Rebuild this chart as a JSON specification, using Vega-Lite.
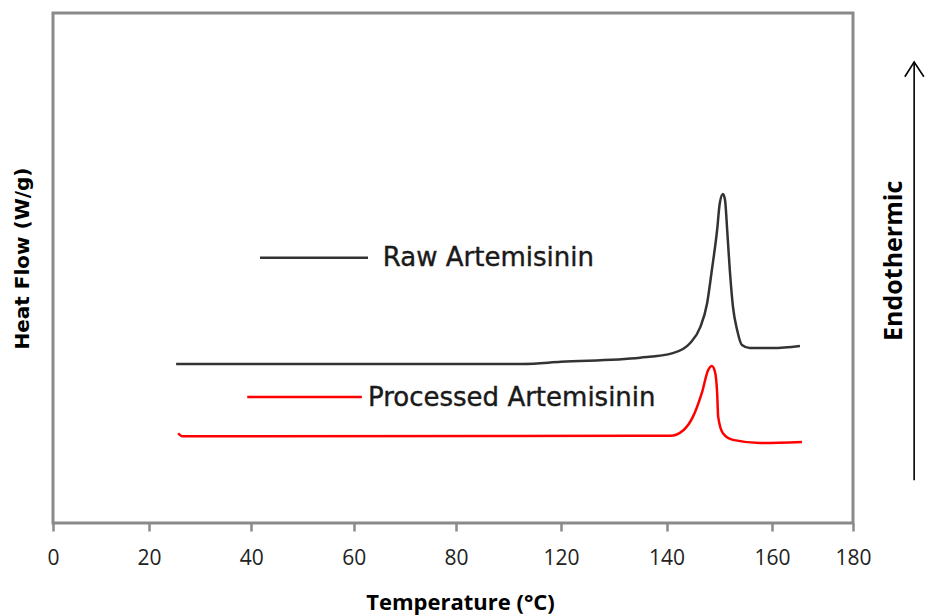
{
  "$schema": "https://vega.github.io/schema/vega-lite/v6.json",
  "width": 800,
  "height": 510,
  "autosize": {"type": "none"},
  "padding": {"left": 53, "top": 13, "right": 73, "bottom": 93},
  "background": "white",
  "config": {
    "view": {"stroke": "#8a8a8a", "strokeWidth": 3},
    "axis": {"grid": false}
  },
  "datasets": {
    "curves": [
      {"series": "Raw", "x": 25.3, "y": 31.2},
      {"series": "Raw", "x": 60, "y": 31.2},
      {"series": "Raw", "x": 105.5, "y": 31.2},
      {"series": "Raw", "x": 120, "y": 31.6},
      {"series": "Raw", "x": 135.0, "y": 32.4},
      {"series": "Raw", "x": 141.2, "y": 33.3},
      {"series": "Raw", "x": 144.5, "y": 35.3},
      {"series": "Raw", "x": 146.4, "y": 38.4},
      {"series": "Raw", "x": 147.7, "y": 43.1},
      {"series": "Raw", "x": 148.6, "y": 49.6},
      {"series": "Raw", "x": 149.6, "y": 57.5},
      {"series": "Raw", "x": 150.1, "y": 62.7},
      {"series": "Raw", "x": 150.7, "y": 64.5},
      {"series": "Raw", "x": 151.1, "y": 63.3},
      {"series": "Raw", "x": 151.5, "y": 57.5},
      {"series": "Raw", "x": 152.0, "y": 49.6},
      {"series": "Raw", "x": 152.6, "y": 42.4},
      {"series": "Raw", "x": 153.4, "y": 37.8},
      {"series": "Raw", "x": 154.3, "y": 34.9},
      {"series": "Raw", "x": 155.8, "y": 34.3},
      {"series": "Raw", "x": 160.2, "y": 34.3},
      {"series": "Raw", "x": 166.9, "y": 34.7},
      {"series": "Processed", "x": 25.7, "y": 17.6},
      {"series": "Processed", "x": 26.5, "y": 17.0},
      {"series": "Processed", "x": 135.0, "y": 17.1},
      {"series": "Processed", "x": 140.7, "y": 17.1},
      {"series": "Processed", "x": 143.2, "y": 18.2},
      {"series": "Processed", "x": 145.0, "y": 20.8},
      {"series": "Processed", "x": 146.7, "y": 25.5},
      {"series": "Processed", "x": 147.9, "y": 30.0},
      {"series": "Processed", "x": 148.6, "y": 30.8},
      {"series": "Processed", "x": 149.2, "y": 29.6},
      {"series": "Processed", "x": 149.6, "y": 25.5},
      {"series": "Processed", "x": 149.8, "y": 20.8},
      {"series": "Processed", "x": 150.7, "y": 17.6},
      {"series": "Processed", "x": 152.6, "y": 16.3},
      {"series": "Processed", "x": 157.7, "y": 15.7},
      {"series": "Processed", "x": 167.4, "y": 15.9}
    ],
    "legendLines": [
      {"series": "Raw", "x": 41.7, "y": 52.0},
      {"series": "Raw", "x": 62.8, "y": 52.0},
      {"series": "Processed", "x": 39.2, "y": 24.7},
      {"series": "Processed", "x": 61.6, "y": 24.7}
    ],
    "legendText": [
      {"label": "Raw Artemisinin", "x": 65.7, "y": 50.4},
      {"label": "Processed Artemisinin", "x": 62.8, "y": 22.9}
    ],
    "sideText": [
      {"label": "Endothermic", "x": 192.0, "y": 51.4}
    ],
    "arrow": [
      {"part": "shaft", "i": 0, "x": 195.1, "y": 8.4},
      {"part": "shaft", "i": 1, "x": 195.1, "y": 90.4},
      {"part": "head", "i": 0, "x": 192.8, "y": 87.5},
      {"part": "head", "i": 1, "x": 195.1, "y": 90.4},
      {"part": "head", "i": 2, "x": 197.5, "y": 87.5}
    ]
  },
  "encoding": {
    "x": {
      "field": "x",
      "type": "quantitative",
      "scale": {
        "domain": [0, 20, 80, 120, 160, 180],
        "range": [0, 96, 403, 508, 719, 800],
        "nice": false,
        "zero": false
      },
      "axis": {
        "values": [0, 20, 40, 60, 80, 120, 140, 160, 180],
        "domain": false,
        "ticks": true,
        "tickColor": "#8a8a8a",
        "tickWidth": 2.5,
        "tickSize": 8,
        "labelFont": "Open Sans",
        "labelFontSize": 21,
        "labelColor": "#222222",
        "labelPadding": 16,
        "labelFlush": false,
        "labelOverlap": false,
        "title": "Temperature (°C)",
        "titleFont": "Open Sans",
        "titleFontWeight": "bold",
        "titleFontSize": 22,
        "titleColor": "#000000",
        "titlePadding": 24,
        "titleX": 407
      }
    },
    "y": {
      "field": "y",
      "type": "quantitative",
      "scale": {"domain": [0, 100], "nice": false, "zero": false},
      "axis": {
        "title": "Heat Flow (W/g)",
        "labels": false,
        "ticks": false,
        "domain": false,
        "titleFont": "DejaVu Sans",
        "titleFontWeight": "bold",
        "titleFontSize": 20,
        "titleColor": "#000000",
        "titlePadding": 21,
        "titleY": 245
      }
    }
  },
  "layer": [
    {
      "data": {"name": "curves"},
      "mark": {"type": "line", "interpolate": "monotone", "strokeWidth": 2.5},
      "encoding": {
        "color": {
          "field": "series",
          "type": "nominal",
          "scale": {"domain": ["Raw", "Processed"], "range": ["#333333", "#ff0000"]},
          "legend": null
        }
      }
    },
    {
      "data": {"name": "legendLines"},
      "mark": {"type": "line", "strokeWidth": 2.5},
      "encoding": {
        "color": {
          "field": "series",
          "type": "nominal",
          "scale": {"domain": ["Raw", "Processed"], "range": ["#333333", "#ff0000"]},
          "legend": null
        }
      }
    },
    {
      "data": {"name": "legendText"},
      "mark": {"type": "text", "align": "left", "baseline": "alphabetic", "font": "DejaVu Sans", "fontSize": 26, "color": "#1a1a1a", "stroke": "#1a1a1a", "strokeWidth": 0.4},
      "encoding": {"text": {"field": "label"}}
    },
    {
      "data": {"name": "sideText"},
      "mark": {"type": "text", "align": "center", "baseline": "alphabetic", "angle": 270, "font": "Open Sans", "fontWeight": "bold", "fontSize": 25, "color": "#000000"},
      "encoding": {"text": {"field": "label"}}
    },
    {
      "data": {"name": "arrow"},
      "mark": {"type": "line", "color": "#000000", "strokeWidth": 1.6},
      "encoding": {
        "detail": {"field": "part"},
        "order": {"field": "i"}
      }
    }
  ]
}
